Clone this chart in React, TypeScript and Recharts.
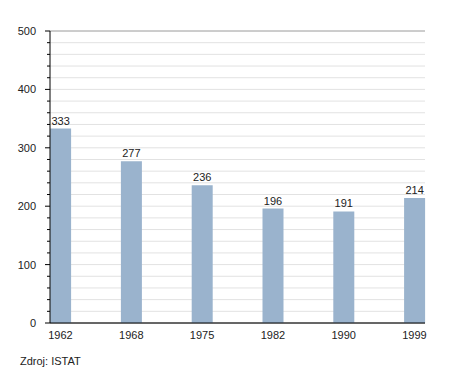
import { BarChart, Bar, XAxis, YAxis, CartesianGrid, LabelList } from "recharts";

const years = ["1962", "1968", "1975", "1982", "1990", "1999"];
const population = [333, 277, 236, 196, 191, 214];
const majorTicks = [0, 100, 200, 300, 400, 500];
const minorTicks = [
  0, 20, 40, 60, 80, 100, 120, 140, 160, 180, 200, 220, 240, 260, 280, 300, 320, 340, 360, 380,
  400, 420, 440, 460, 480, 500,
];

const data = years.map((year, i) => ({ i, year, value: population[i] }));

const font = "'Liberation Sans', Arial, sans-serif";

// y axis tick: label only on the hundreds, longer tick line there
function YTick(props: any) {
  const { x, y, payload } = props;
  const major = payload.value % 100 === 0;
  return (
    <g>
      <line x1={x + (major ? 9 : 11)} x2={x + 14} y1={y} y2={y} stroke="#000" />
      {major && (
        <text x={x} y={y} dy={4} textAnchor="end" fontSize={11} fill="#222" fontFamily={font}>
          {payload.value}
        </text>
      )}
    </g>
  );
}

export default function App() {
  return (
    <div style={{ position: "absolute", left: 0, top: 0, width: 455, height: 373, background: "#fff", fontFamily: font }}>
      <BarChart
        width={455}
        height={373}
        data={data}
        margin={{ top: 31, right: 30, left: 0, bottom: 30 }}
        style={{ fontFamily: font }}
      >
        <CartesianGrid vertical={false} stroke="#e2e2e2" strokeWidth={1} />
        <CartesianGrid yAxisId="major" vertical={false} stroke="#a8a8a8" strokeWidth={1} />
        <XAxis
          type="number"
          dataKey="i"
          domain={[0, 5]}
          ticks={[0, 1, 2, 3, 4, 5]}
          tickFormatter={(v) => years[v]}
          padding={{ left: 10.5, right: 10.5 }}
          tickLine={false}
          axisLine={{ stroke: "#000" }}
          tick={{ fontSize: 11, fill: "#222" }}
          tickMargin={2}
          height={20}
          interval={0}
        />
        <YAxis
          domain={[0, 500]}
          ticks={minorTicks}
          width={50}
          tickSize={5}
          tickMargin={9}
          tickLine={false}
          axisLine={{ stroke: "#000" }}
          tick={<YTick />}
          interval={0}
        />
        <YAxis yAxisId="major" hide domain={[0, 500]} ticks={majorTicks} interval={0} />
        <Bar dataKey="value" fill="#9ab3cd" barSize={21} isAnimationActive={false}>
          <LabelList dataKey="value" position="top" offset={4} fontSize={11} fill="#222" />
        </Bar>
      </BarChart>
      <div style={{ position: "absolute", left: 20, top: 355, fontSize: 11, color: "#222" }}>Zdroj: ISTAT</div>
    </div>
  );
}
